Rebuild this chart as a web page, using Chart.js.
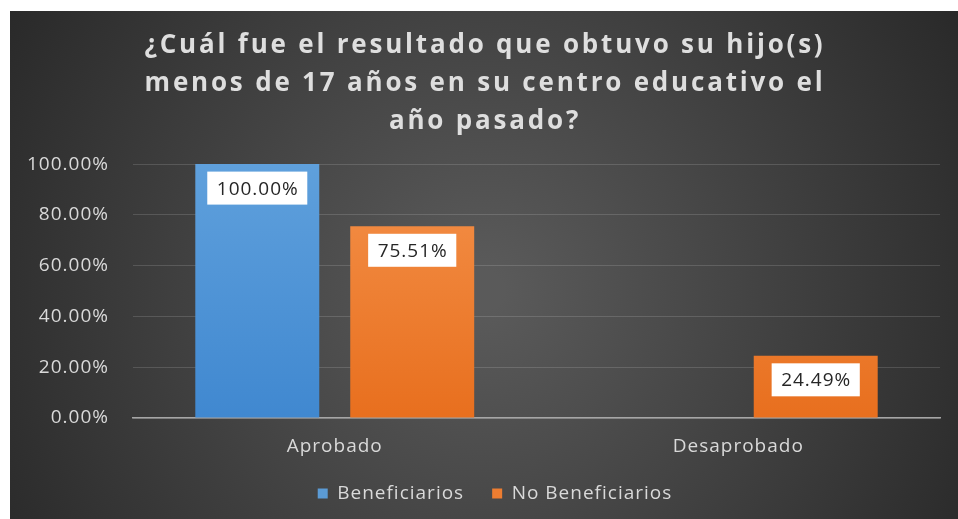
<!DOCTYPE html>
<html>
<head>
<meta charset="utf-8">
<script src="https://cdn.jsdelivr.net/npm/chart.js@4/dist/chart.umd.min.js"></script>
<style>
  body { margin: 0; background: #fff; }
  #wrap { position: absolute; left: 10px; top: 11px; width: 948px; height: 508px; }
</style>
</head>
<body>
<div id="wrap"><canvas id="result-chart"></canvas></div>
<script>
const categories = ['Aprobado', 'Desaprobado'];
const seriesNames = ['Beneficiarios', 'No Beneficiarios'];
const beneficiarios = [100.00, 0];
const noBeneficiarios = [75.51, 24.49];
const titleLines = [
    '¿Cuál fue el resultado que obtuvo su hijo(s)',
    'menos de 17 años en su centro educativo el',
    'año pasado?'
];
const solidColors = ['#5b9bd5', '#ed7d31'];

const FONT = "'Open Sans', 'Liberation Sans', sans-serif";
const TEXT_COLOR = '#d9d9d9';
const TEXT_SPACING = '1px';

function barGradient(top, bottom) {
    return (ctx) => {
        const area = ctx.chart.chartArea;
        if (!area) return top;
        const g = ctx.chart.ctx.createLinearGradient(0, area.top, 0, area.bottom);
        g.addColorStop(0, top);
        g.addColorStop(1, bottom);
        return g;
    };
}

// fondo oscuro con degradado radial + espaciado de letras general
const backgroundPlugin = {
    id: 'bg',
    beforeUpdate(chart) {
        chart.ctx.letterSpacing = TEXT_SPACING;
    },
    beforeDraw(chart) {
        const { ctx, width, height } = chart;
        ctx.letterSpacing = TEXT_SPACING;
        const g = ctx.createRadialGradient(width * 0.5, height * 0.55, 20, width * 0.5, height * 0.55, width * 0.62);
        g.addColorStop(0, '#5a5a5a');
        g.addColorStop(1, '#262626');
        ctx.save();
        ctx.fillStyle = g;
        ctx.fillRect(0, 0, width, height);
        ctx.restore();
    }
};

// título con letras más espaciadas, y título/leyenda algo desplazados a la derecha
const shiftPlugin = {
    id: 'shiftBlocks',
    afterInit(chart) {
        const wrap = (block, dx, spacing) => {
            if (!block) return;
            const orig = block.draw.bind(block);
            block.draw = function (area) {
                const ctx = chart.ctx;
                ctx.save();
                if (spacing) ctx.letterSpacing = spacing;
                ctx.translate(dx, 0);
                orig(area);
                ctx.restore();
            };
        };
        wrap(chart.titleBlock, 6, '2.8px');
        wrap(chart.legend, 16, null);
    }
};

// etiquetas blancas dentro de las barras
const valueLabelPlugin = {
    id: 'valueLabels',
    afterDatasetsDraw(chart) {
        const ctx = chart.ctx;
        ctx.save();
        ctx.font = '19px ' + FONT;
        ctx.textAlign = 'center';
        ctx.textBaseline = 'middle';
        chart.data.datasets.forEach((ds, i) => {
            const meta = chart.getDatasetMeta(i);
            meta.data.forEach((bar, j) => {
                const v = ds.data[j];
                if (!v) return;
                const text = v.toFixed(2) + '%';
                const w = ctx.measureText(text).width + 18;
                const h = 33;
                const cy = bar.y + 24;
                ctx.fillStyle = '#ffffff';
                ctx.fillRect(bar.x - w / 2, cy - h / 2, w, h);
                ctx.fillStyle = '#262626';
                ctx.fillText(text, bar.x + 0.5, cy + 1);
            });
        });
        ctx.restore();
    }
};

function buildResultChart(container) {
    const data = {
        labels: categories,
        datasets: [
            {
                label: seriesNames[0],
                data: beneficiarios,
                backgroundColor: barGradient('#5fa0dc', '#4088d0')
            },
            {
                label: seriesNames[1],
                data: noBeneficiarios,
                backgroundColor: barGradient('#f4914a', '#e86f1e')
            }
        ]
    };

    const config = {
        type: 'bar',
        data: data,
        options: {
            responsive: true,
            maintainAspectRatio: false,
            animation: false,
            categoryPercentage: 0.768,
            barPercentage: 0.8,
            layout: { padding: { left: 8, right: 18, bottom: 6 } },
            plugins: {
                title: {
                    display: true,
                    text: titleLines,
                    color: '#dedede',
                    font: { family: FONT, size: 26, weight: 'bold', lineHeight: 1.45 },
                    padding: { top: 16, bottom: 24 }
                },
                legend: {
                    position: 'bottom',
                    labels: {
                        color: TEXT_COLOR,
                        font: { family: FONT, size: 19 },
                        boxWidth: 10,
                        boxHeight: 10,
                        padding: 28,
                        generateLabels(chart) {
                            const items = Chart.defaults.plugins.legend.labels.generateLabels(chart);
                            items.forEach((it, i) => {
                                it.fillStyle = solidColors[i];
                                it.strokeStyle = solidColors[i];
                                it.lineWidth = 0;
                            });
                            return items;
                        }
                    }
                },
                tooltip: { enabled: false }
            },
            scales: {
                x: {
                    grid: { display: false, drawTicks: false },
                    border: { display: true, color: '#a6a6a6', width: 1.5 },
                    ticks: { color: TEXT_COLOR, font: { family: FONT, size: 19 }, padding: 17 },
                    afterFit(scale) { scale.height = 38; }
                },
                y: {
                    min: 0,
                    max: 100,
                    grid: { color: 'rgba(255,255,255,0.14)', drawTicks: false },
                    border: { display: false },
                    ticks: {
                        stepSize: 20,
                        color: TEXT_COLOR,
                        font: { family: FONT, size: 19 },
                        padding: 24,
                        callback: (v) => v.toFixed(2) + '%'
                    },
                    afterFit(scale) { scale.width = 115; }
                }
            }
        },
        plugins: [backgroundPlugin, shiftPlugin, valueLabelPlugin]
    };

    return new Chart(container, config);
}

const resultChartContainer = document.getElementById('result-chart');
if (resultChartContainer) {
    buildResultChart(resultChartContainer);
}
</script>
</body>
</html>
